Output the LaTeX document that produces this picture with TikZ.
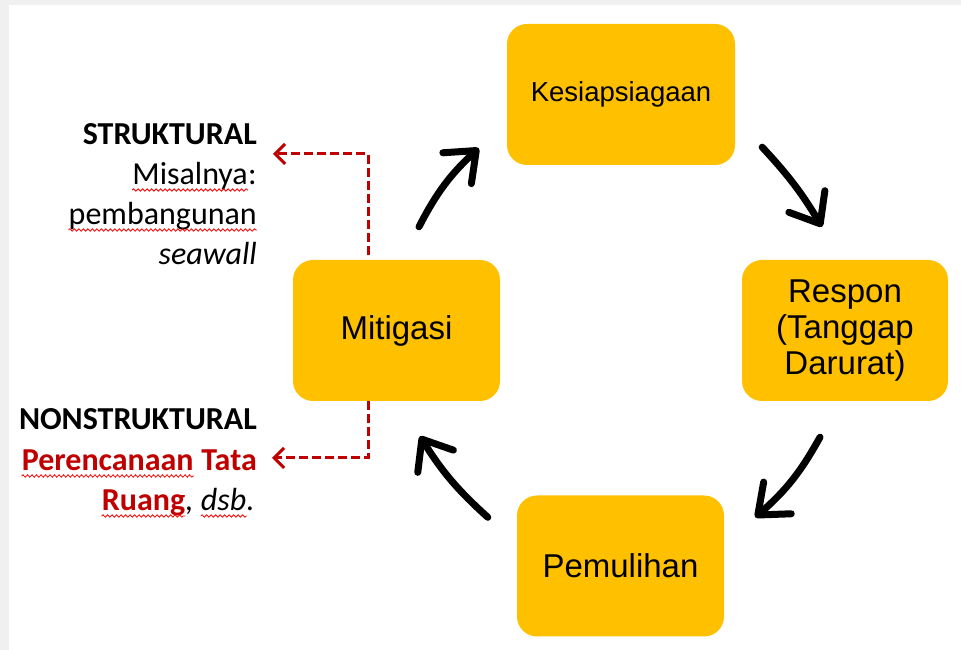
\documentclass[tikz,border=0pt]{standalone}
\usepackage{fontspec}
\setmainfont{Carlito}
\newfontfamily\boxfont{Liberation Sans}
\usetikzlibrary{arrows.meta,decorations.pathmorphing}

\definecolor{phaseyellow}{HTML}{FFC000}
\definecolor{darkred}{HTML}{C00000}
\definecolor{framegray}{HTML}{F0F0F0}

\tikzset{
	phase/.style={fill=phaseyellow, rounded corners=20pt, minimum width=207pt, minimum height=141pt,
		inner sep=0pt, align=center, font=\boxfont\fontsize{33}{36}\selectfont},
	cyclearrow/.style={line width=7pt, line cap=round, -{Straight Barb[round,length=26pt,width=42pt]}},
	link/.style={darkred, line width=3pt, dash pattern=on 9pt off 4pt, -{Straight Barb[length=10pt,width=20pt]}},
	note/.style={anchor=base east, inner sep=0pt, font=\fontsize{32}{40}\selectfont},
	notebf/.style={note, font=\bfseries\fontsize{32}{40}\selectfont},
	noteit/.style={note, font=\itshape\fontsize{32}{40}\selectfont},
	spell/.style={red, line width=0.8pt, decorate, decoration={snake, amplitude=1.2pt, segment length=4.5pt}}
}

\begin{document}
\begin{tikzpicture}[x=1pt,y=1pt]
		% frame
		\fill[framegray] (0,0) rectangle (961,650);
		\fill[white] (9,0) rectangle (961,645);
		\useasboundingbox (0,0) rectangle (961,650);

		% phases
		\node[phase, minimum width=228pt, font=\boxfont\fontsize{27.5}{30}\selectfont] (kes) at (621,555.5) {Kesiapsiagaan};
		\node[phase, minimum width=206pt] (res) at (845,319.5) {Respon\\(Tanggap\\Darurat)};
		\node[phase] (pem) at (620.5,84) {Pemulihan};
		\node[phase] (mit) at (396.5,319.5) {Mitigasi};

		% cycle
		\draw[cyclearrow] ([shift={(22.5,33)}]mit.north) to[bend left=10] ([shift={(-28,17)}]kes.south west);
		\draw[cyclearrow] ([shift={(27,18)}]kes.south east) to[bend left=6] ([shift={(-23,33)}]res.north);
		\draw[cyclearrow] ([shift={(-25,-36)}]res.south) to[bend left=10] ([shift={(31,-22)}]pem.north east);
		\draw[cyclearrow] ([shift={(-29,-22)}]pem.north west) to[bend left=8] ([shift={(23.5,-35)}]mit.south);

		% notes
		\node[notebf] (struk) at (257,505) {STRUKTURAL};
		\node[note] (colon) at (257,465) {:};
		\node[note] (misal) at (colon.base west) {Misalnya};
		\node[note] (bangun) at (257,425) {pembangunan};
		\node[noteit] (seawall) at (257,385) {seawall};

		\node[notebf] (nonstruk) at (257,220) {NONSTRUKTURAL};
		\node[notebf, darkred] (tata) at (257,179) {\ Tata};
		\node[notebf, darkred] (rencana) at (tata.base west) {Perencanaan};
		\node[noteit] (dot) at (255,139) {.};
		\node[noteit] (dsb) at (dot.base west) {dsb};
		\node[noteit] (comma) at (dsb.base west) {,\kern7pt};
		\node[notebf, darkred] (ruang) at (comma.base west) {Ruang};

		\foreach \w in {misal,bangun,rencana,ruang,dsb}
			\draw[spell] ([yshift=-5pt]\w.base west) -- ([yshift=-5pt]\w.base east);

		% links
		\coordinate (up) at (368,496);
		\coordinate (upend) at (273,496);
		\coordinate (down) at (368,192);
		\coordinate (downend) at (272,192);
		\draw[link] (mit.north -| up) ++(0,5) -- (up) -- (upend);
		\draw[link] (mit.south -| down) -- (down) -- (downend);
\end{tikzpicture}
\end{document}
